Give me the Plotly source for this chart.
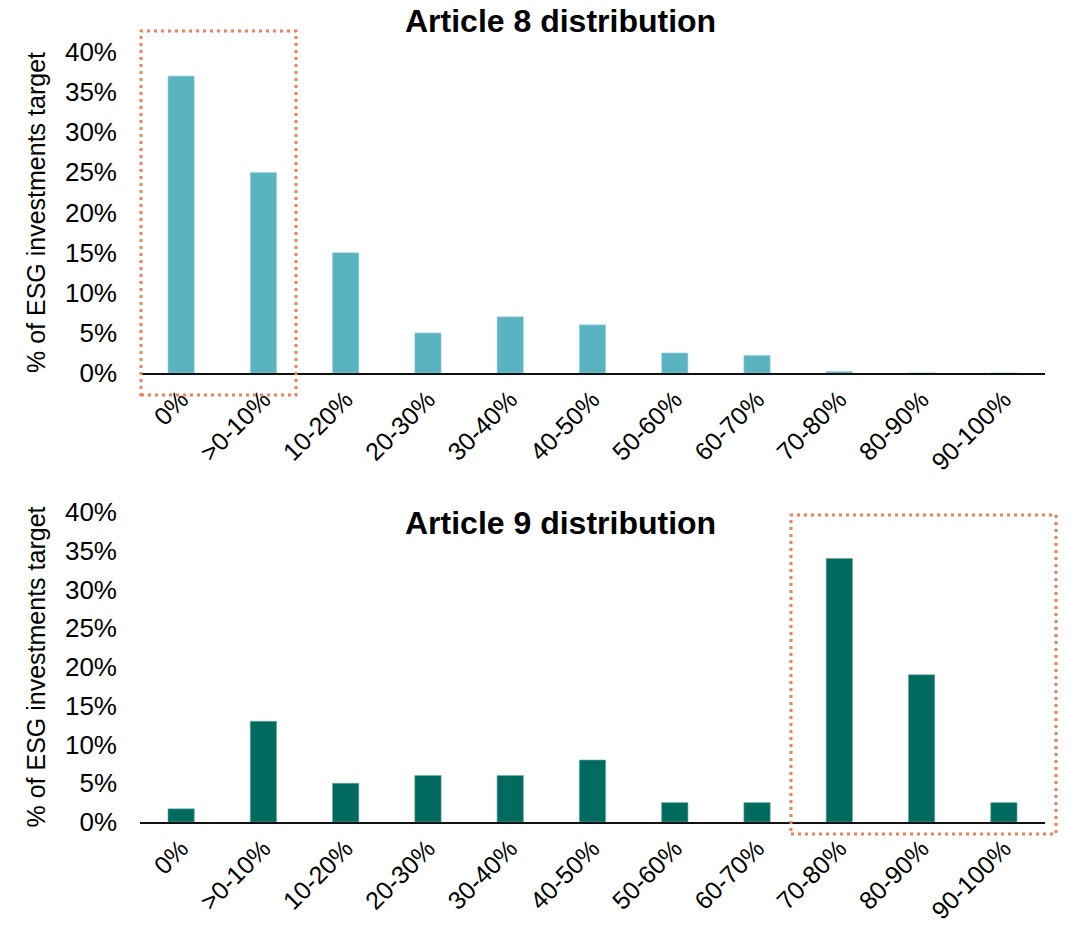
import plotly.graph_objects as go
from plotly.subplots import make_subplots

categories = ["0%", ">0-10%", "10-20%", "20-30%", "30-40%", "40-50%",
              "50-60%", "60-70%", "70-80%", "80-90%", "90-100%"]
article8 = [0.37, 0.25, 0.15, 0.05, 0.07, 0.06, 0.025, 0.022, 0.002, 0.0, 0.0]
article9 = [0.017, 0.13, 0.05, 0.06, 0.06, 0.08, 0.025, 0.025, 0.34, 0.19, 0.025]
ytick_vals = [0, 0.05, 0.10, 0.15, 0.20, 0.25, 0.30, 0.35, 0.40]
ytick_text = ["0%", "5%", "10%", "15%", "20%", "25%", "30%", "35%", "40%"]

W, H = 1071, 932
# target page-pixel positions of the plotting area
L_PX, R_PX, T_PX, B_PX = 140, 1045, 52, 822
ML, MR, MT, MB = L_PX, W - R_PX, T_PX, H - B_PX
PW, PH = W - ML - MR, H - MT - MB

def px_x(p):
    return (p - L_PX) / PW

def px_y(p):
    return (B_PX - p) / PH

FONT = "Liberation Sans, Arial, sans-serif"

fig = make_subplots(rows=2, cols=1)
fig.add_trace(go.Bar(x=categories, y=article8, marker_color="#59B3C1",
                     marker_line=dict(color="#A8D8DF", width=0.6)), row=1, col=1)
fig.add_trace(go.Bar(x=categories, y=article9, marker_color="#026B60",
                     marker_line=dict(color="#6FA9A2", width=0.6)), row=2, col=1)

fig.update_xaxes(showgrid=False, zeroline=False, showline=True, linecolor="#111111",
                 linewidth=2, tickangle=-45, ticks="", automargin=False,
                 tickfont=dict(family=FONT, size=25, color="#000"))
fig.update_yaxes(range=[0, 0.4], tickvals=ytick_vals, ticktext=ytick_text,
                 showgrid=False, zeroline=False, showline=False, automargin=False,
                 tickfont=dict(family=FONT, size=26, color="#000"),
                 ticklabelstandoff=22,
                 title=dict(text="% of ESG investments target",
                            font=dict(family=FONT, size=25, color="#000"), standoff=12))

fig.update_layout(
    width=W, height=H, margin=dict(l=ML, r=MR, t=MT, b=MB, autoexpand=False),
    plot_bgcolor="white", paper_bgcolor="white", showlegend=False,
    bargap=0.68,
    xaxis=dict(domain=[0, 1]), yaxis=dict(domain=[px_y(373), 1]),
    xaxis2=dict(domain=[0, 1]), yaxis2=dict(domain=[0, px_y(512)]),
)

fig.add_annotation(text="<b>Article 8 distribution</b>", xref="paper", yref="paper",
                   x=px_x(560), y=px_y(21), showarrow=False, yanchor="middle",
                   font=dict(family=FONT, size=32, color="#000"))
fig.add_annotation(text="<b>Article 9 distribution</b>", xref="paper", yref="paper",
                   x=px_x(560), y=px_y(523), showarrow=False, yanchor="middle",
                   font=dict(family=FONT, size=32, color="#000"))

rect_style = dict(color="#F07F5C", width=3, dash="3px,4px")
fig.add_shape(type="rect", xref="paper", yref="paper",
              x0=px_x(141), x1=px_x(296), y0=px_y(395), y1=px_y(31), line=rect_style)
fig.add_shape(type="rect", xref="paper", yref="paper",
              x0=px_x(791), x1=px_x(1056), y0=px_y(834), y1=px_y(515), line=rect_style)

fig.write_html("out.html", config={"displayModeBar": False},
               post_script="document.body.style.margin='0px';document.body.style.overflow='hidden';")
